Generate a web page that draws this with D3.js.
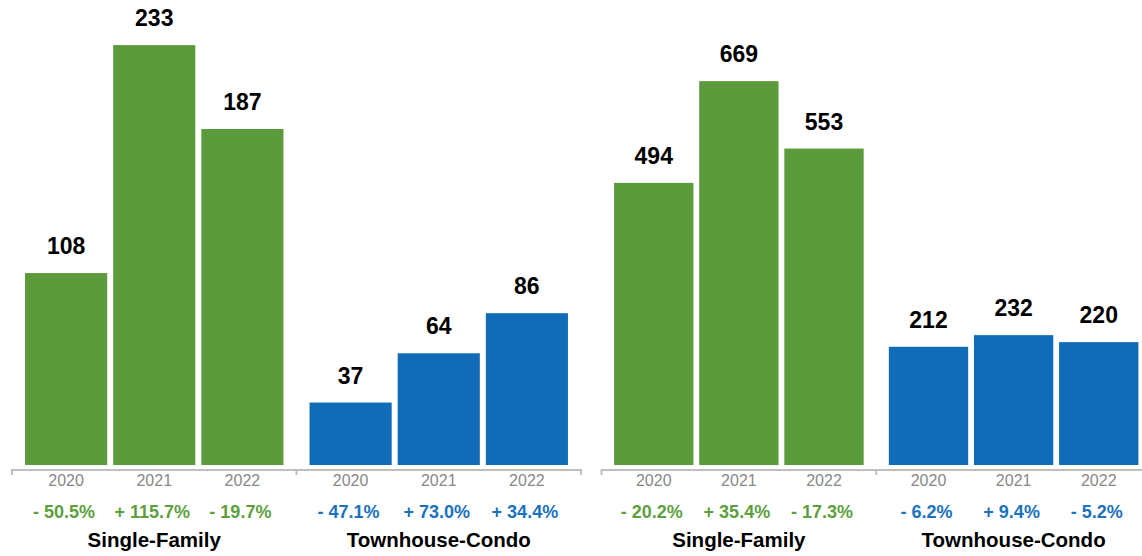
<!DOCTYPE html>
<html>
<head>
<meta charset="utf-8">
<script src="https://cdn.jsdelivr.net/npm/d3@7"></script>
<style>
  html, body { margin: 0; padding: 0; background: #ffffff; }
  svg { display: block; font-family: "Liberation Sans", Arial, Helvetica, sans-serif; }
</style>
</head>
<body>
<svg id="chart" width="1142" height="556"></svg>
<script>
// Categories
const years = ["2020", "2021", "2022"];
const groups = ["Single-Family", "Townhouse-Condo"];

// Left panel counts
const leftSingleFamily = [108, 233, 187];
const leftTownhouse = [37, 64, 86];
// Left panel year-over-year change (%)
const leftSingleFamilyChange = [-50.5, 115.7, -19.7];
const leftTownhouseChange = [-47.1, 73.0, 34.4];

// Right panel counts
const rightSingleFamily = [494, 669, 553];
const rightTownhouse = [212, 232, 220];
// Right panel year-over-year change (%)
const rightSingleFamilyChange = [-20.2, 35.4, -17.3];
const rightTownhouseChange = [-6.2, 9.4, -5.2];

// Value-axis maximum for each panel
const axisMax = [255, 800];

const groupColors = { "Single-Family": "#5b9b3c", "Townhouse-Condo": "#116cb7" };
const changeColors = { "Single-Family": "#5d9f3f", "Townhouse-Condo": "#1a72bd" };

const panels = [
  { x0: 12, x1: 581, max: axisMax[0],
    series: [
      { group: groups[0], values: leftSingleFamily, change: leftSingleFamilyChange },
      { group: groups[1], values: leftTownhouse, change: leftTownhouseChange }
    ] },
  { x0: 601.5, x1: 1151, max: axisMax[1],
    series: [
      { group: groups[0], values: rightSingleFamily, change: rightSingleFamilyChange },
      { group: groups[1], values: rightTownhouse, change: rightTownhouseChange }
    ] }
];

const svg = d3.select("#chart");
const axisY = 470;
const plotTop = 5;
const barGap = 5;   // bars stop short of the axis line

const fmtChange = v => (v < 0 ? "- " : "+ ") + Math.abs(v).toFixed(1) + "%";

panels.forEach(panel => {
  const g = svg.append("g");

  const x = d3.scaleBand().domain(groups).range([panel.x0, panel.x1]).padding(0);
  const xInner = d3.scaleBand().domain(years).range([0, x.bandwidth()])
    .paddingInner(0.068).paddingOuter(0.148);
  const y = d3.scaleLinear().domain([0, panel.max]).range([axisY, plotTop]);

  // Baseline with ticks at the group boundaries
  g.append("line")
    .attr("x1", panel.x0).attr("x2", panel.x1)
    .attr("y1", axisY).attr("y2", axisY)
    .attr("stroke", "#bfbfbf").attr("stroke-width", 2);
  const bounds = [panel.x0].concat(groups.map(d => x(d) + x.bandwidth()));
  g.selectAll("line.tickmark").data(bounds).join("line")
    .attr("class", "tickmark")
    .attr("x1", d => d).attr("x2", d => d)
    .attr("y1", axisY - 1).attr("y2", axisY + 5)
    .attr("stroke", "#bfbfbf").attr("stroke-width", 2);

  panel.series.forEach(s => {
    const gx = x(s.group);
    const rows = years.map((yr, i) => ({ year: yr, value: s.values[i], change: s.change[i] }));
    const sg = g.append("g").attr("transform", `translate(${gx},0)`);

    sg.selectAll("rect").data(rows).join("rect")
      .attr("x", d => xInner(d.year))
      .attr("width", xInner.bandwidth())
      .attr("y", d => y(d.value))
      .attr("height", d => y(0) - y(d.value) - barGap)
      .attr("fill", groupColors[s.group]);

    sg.selectAll("text.value").data(rows).join("text")
      .attr("class", "value")
      .attr("x", d => xInner(d.year) + xInner.bandwidth() / 2)
      .attr("y", d => y(d.value) - 19)
      .attr("text-anchor", "middle")
      .attr("font-size", 23).attr("font-weight", "bold").attr("fill", "#000")
      .text(d => d.value);

    sg.selectAll("text.year").data(rows).join("text")
      .attr("class", "year")
      .attr("x", d => xInner(d.year) + xInner.bandwidth() / 2)
      .attr("y", 486)
      .attr("text-anchor", "middle")
      .attr("font-size", 16).attr("fill", "#888888")
      .text(d => d.year);

    sg.selectAll("text.change").data(rows).join("text")
      .attr("class", "change")
      .attr("x", d => xInner(d.year) + xInner.bandwidth() / 2 - 2)
      .attr("y", 518)
      .attr("text-anchor", "middle")
      .attr("font-size", 18).attr("font-weight", "bold")
      .attr("fill", changeColors[s.group])
      .text(d => fmtChange(d.change));

    sg.append("text")
      .attr("x", x.bandwidth() / 2)
      .attr("y", 547)
      .attr("text-anchor", "middle")
      .attr("font-size", 20.5).attr("font-weight", "bold").attr("fill", "#000")
      .text(s.group);
  });
});
</script>
</body>
</html>
